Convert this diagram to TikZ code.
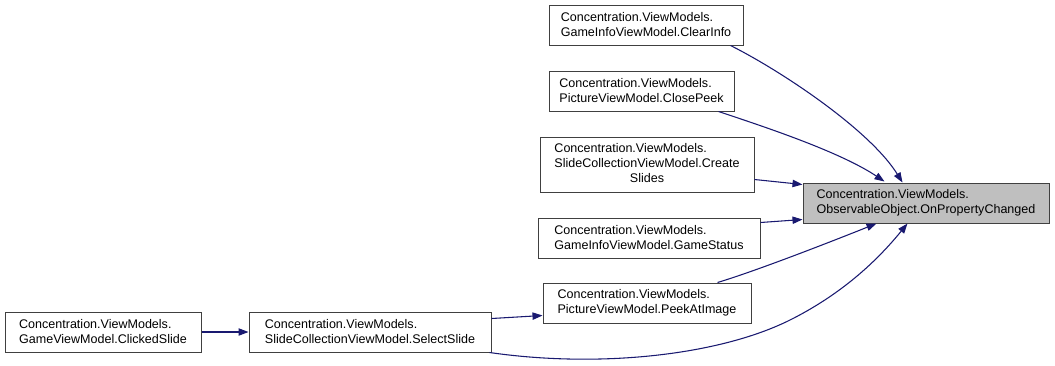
\documentclass[tikz,border=0pt]{standalone}
\usepackage{fontspec}
\setmainfont{Liberation Sans}
\usetikzlibrary{arrows.meta,calc}
\definecolor{edgeblue}{HTML}{191970}
\definecolor{hilite}{HTML}{BFBFBF}
\begin{document}
\begin{tikzpicture}[x=0.75pt, y=-0.75pt,
    fn/.style={draw=black!75, fill=white, line width=0.75pt, align=left, inner sep=0pt,
      minimum height=30pt, font=\fontsize{9.4}{11.25}\selectfont},
    call/.style={draw=edgeblue, line width=0.8pt, -{Triangle[length=7.5pt,width=5.5pt]}}]
    \useasboundingbox (0,0) rectangle (1055,365);
    % callers, one rank
    \node[fn, minimum width=145.5pt] (clearinfo) at (646,25) {Concentration.ViewModels.\\GameInfoViewModel.ClearInfo};
    \node[fn, minimum width=138.75pt] (closepeek) at (641.5,91) {Concentration.ViewModels.\\PictureViewModel.ClosePeek};
    \node[fn, minimum width=160.5pt, minimum height=41.25pt] (createslides) at (647,164.5)
        {\begin{tabular}{@{}l@{}}Concentration.ViewModels.\\SlideCollectionViewModel.Create\\\multicolumn{1}{@{}c@{}}{Slides}\end{tabular}};
    \node[fn, minimum width=166.5pt] (gamestatus) at (649,238) {Concentration.ViewModels.\\GameInfoViewModel.GameStatus};
    \node[fn, minimum width=156pt] (peekatimage) at (647,303) {Concentration.ViewModels.\\PictureViewModel.PeekAtImage};
    \node[fn, minimum width=147pt] (clickedslide) at (103,332) {Concentration.ViewModels.\\GameViewModel.ClickedSlide};
    \node[fn, minimum width=181.5pt] (selectslide) at (370,332) {Concentration.ViewModels.\\SlideCollectionViewModel.SelectSlide};
    % the called function
    \node[fn, fill=hilite, minimum width=184.5pt] (opc) at (926,203) {Concentration.ViewModels.\\ObservableObject.OnPropertyChanged};
    % call edges
    \draw[call] ($(clearinfo.south east)+(-13,0)$) .. controls +(50,25) and +(-33,-53) .. ($(opc.north west)+(100,0)$);
    \draw[call] ($(closepeek.south east)+(-16,0)$) .. controls +(45,15) and +(-45,-30) .. ($(opc.north west)+(82,-1)$);
    \draw[call] ($(createslides.east)+(0,15)$) -- ($(opc.north west)+(0,2)$);
    \draw[call] ($(gamestatus.north east)+(0,5)$) -- ($(opc.south west)+(0,-4)$);
    \draw[call] ($(peekatimage.north east)+(-34,0)$) .. controls +(40,-12) and +(-40,16) .. ($(opc.south west)+(74,0)$);
    \draw[call] ($(selectslide.south east)+(-2,0)$) .. controls +(111,16) and +(-70,35) .. (790,320)
        .. controls +(60,-30) and +(-23,28) .. ($(opc.south west)+(105,0)$);
    \draw[call] ($(selectslide.north east)+(0,7)$) -- ($(peekatimage.south west)+(0,-8)$);
    \draw[call] (clickedslide) -- (selectslide);
\end{tikzpicture}
\end{document}
